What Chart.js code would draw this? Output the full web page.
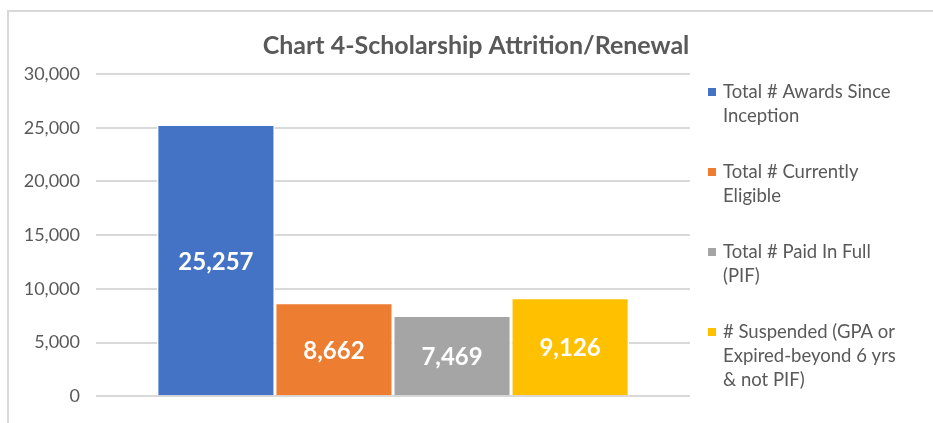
<!DOCTYPE html>
<html>
<head>
<meta charset="utf-8">
<script src="https://cdn.jsdelivr.net/npm/chart.js@4.4.0/dist/chart.umd.min.js"></script>
<style>
  html, body { margin: 0; padding: 0; background: #fff; }
  #frame { position: absolute; left: 7px; top: 10px; width: 1000px; height: 500px;
           border-left: 2px solid #d9d9d9; border-top: 2px solid #d9d9d9; }
  #wrap { position: absolute; left: 0; top: 0; width: 933px; height: 423px; }
</style>
</head>
<body>
<div id="frame"></div>
<div id="wrap"><canvas id="chart" width="933" height="423"></canvas></div>
<script>
// Datos del gráfico
const chartTitle = 'Chart 4-Scholarship Attrition/Renewal';
const categories = [''];
const seriesNames = [
    'Total # Awards Since Inception',
    'Total # Currently Eligible',
    'Total # Paid In Full (PIF)',
    '# Suspended (GPA or Expired-beyond 6 yrs & not PIF)'
];
// Líneas de la leyenda tal como aparecen partidas en el original
const legendLines = [
    ['Total # Awards Since', 'Inception'],
    ['Total # Currently', 'Eligible'],
    ['Total # Paid In Full', '(PIF)'],
    ['# Suspended (GPA or', 'Expired-beyond 6 yrs', '& not PIF)']
];
const seriesValues = [25257, 8662, 7469, 9126];
const seriesColors = ['#4472C4', '#ED7D31', '#A5A5A5', '#FFC000'];
const yTicks = [0, 5000, 10000, 15000, 20000, 25000, 30000];

const textColor = '#595959';
const fmt = v => v.toLocaleString('en-US');

// Título, leyenda y etiquetas de datos
const decorPlugin = {
    id: 'decor',
    afterDatasetsDraw(chart) {
        const ctx = chart.ctx;
        ctx.save();
        // etiquetas dentro de las barras
        ctx.fillStyle = '#ffffff';
        ctx.font = 'bold 24px Lato';
        ctx.textAlign = 'center';
        ctx.textBaseline = 'middle';
        chart.data.datasets.forEach((ds, i) => {
            const bar = chart.getDatasetMeta(i).data[0];
            ctx.fillText(fmt(ds.data[0]), bar.x, (bar.y + bar.base) / 2 + 2);
        });

        // título
        ctx.fillStyle = textColor;
        ctx.font = 'bold 25px Lato';
        ctx.fillText(chartTitle, 476, 46);

        // leyenda
        ctx.textAlign = 'left';
        ctx.font = '18.5px Lato';
        let y = 92;
        legendLines.forEach((lines, i) => {
            ctx.fillStyle = seriesColors[i];
            ctx.fillRect(708, y - 4, 8, 8);
            ctx.fillStyle = textColor;
            lines.forEach((line, j) => {
                ctx.fillText(line, 723, y + j * 24);
            });
            y += 80;
        });
        ctx.restore();
    }
};

document.addEventListener('DOMContentLoaded', function() {
    const ctx = document.getElementById('chart').getContext('2d');

    new Chart(ctx, {
        type: 'bar',
        data: {
            labels: categories,
            datasets: seriesNames.map((name, i) => ({
                label: name,
                data: [seriesValues[i]],
                backgroundColor: seriesColors[i],
                borderColor: '#ffffff',
                borderWidth: { left: 1.5, right: 1.5, top: 1, bottom: 0 },
                borderSkipped: false,
                barPercentage: 1,
                categoryPercentage: 0.795
            }))
        },
        options: {
            responsive: false,
            animation: false,
            layout: { padding: { top: 74, right: 243, bottom: 26, left: 0 } },
            plugins: {
                legend: { display: false },
                title: { display: false },
                tooltip: { enabled: false }
            },
            scales: {
                x: { display: false },
                y: {
                    min: 0,
                    max: 30000,
                    afterBuildTicks: s => { s.ticks = yTicks.map(v => ({ value: v })); },
                    afterFit: s => { s.width = 96; },
                    border: { display: false },
                    grid: { color: '#d9d9d9', lineWidth: 2, drawTicks: false },
                    ticks: {
                        color: textColor,
                        font: { family: 'Lato', size: 18 },
                        padding: 16,
                        callback: v => fmt(v)
                    }
                }
            }
        },
        plugins: [decorPlugin]
    });
});
</script>
</body>
</html>
